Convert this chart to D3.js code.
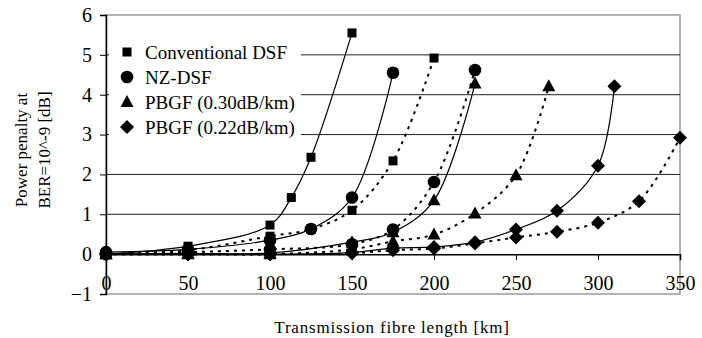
<!DOCTYPE html>
<html><head><meta charset="utf-8">
<script src="https://cdn.jsdelivr.net/npm/d3@7"></script>
<style>body{margin:0;background:#fff}svg{display:block}</style>
</head><body><svg id="c" width="702" height="338"></svg>
<script>
const xTicks = [0, 50, 100, 150, 200, 250, 300, 350];
const yTicks = [-1, 0, 1, 2, 3, 4, 5, 6];
const legendNames = ["Conventional DSF", "NZ-DSF", "PBGF (0.30dB/km)", "PBGF (0.22dB/km)"];

const convSolidX = [0, 50, 100, 113, 125, 150];
const convSolidY = [0, 0.2, 0.73, 1.42, 2.43, 5.55];
const convDashX = [0, 50, 100, 125, 150, 175, 200];
const convDashY = [0, 0.1, 0.45, 0.63, 1.1, 2.34, 4.92];
const nzSolidX = [0, 50, 100, 125, 150, 175];
const nzSolidY = [0.05, 0.12, 0.35, 0.63, 1.42, 4.55];
const nzDashX = [0, 50, 100, 150, 175, 200, 225];
const nzDashY = [0, 0.05, 0.12, 0.25, 0.62, 1.81, 4.62];
const triSolidX = [0, 50, 100, 150, 175, 200, 225];
const triSolidY = [0, 0.02, 0.03, 0.3, 0.55, 1.35, 4.28];
const triDashX = [0, 50, 100, 150, 175, 200, 225, 250, 270];
const triDashY = [0, 0, 0, 0.12, 0.32, 0.49, 1.02, 1.98, 4.21];
const diaSolidX = [0, 50, 100, 150, 175, 200, 225, 250, 275, 300, 310];
const diaSolidY = [0, 0, 0, 0.04, 0.15, 0.18, 0.3, 0.62, 1.09, 2.22, 4.21];
const diaDashX = [0, 50, 100, 150, 175, 200, 225, 250, 275, 300, 325, 350];
const diaDashY = [0, 0, 0, 0.02, 0.1, 0.14, 0.27, 0.42, 0.56, 0.79, 1.33, 2.92];

const series = [
  {x: convSolidX, y: convSolidY, m: "square", dash: false},
  {x: convDashX, y: convDashY, m: "square", dash: true},
  {x: nzSolidX, y: nzSolidY, m: "circle", dash: false},
  {x: nzDashX, y: nzDashY, m: "circle", dash: true},
  {x: triSolidX, y: triSolidY, m: "triangle", dash: false},
  {x: triDashX, y: triDashY, m: "triangle", dash: true},
  {x: diaSolidX, y: diaSolidY, m: "diamond", dash: false},
  {x: diaDashX, y: diaDashY, m: "diamond", dash: true}
];
const legendMarkers = ["square", "circle", "triangle", "diamond"];
const FONT = "'Liberation Serif'";

const svg = d3.select("#c");
const x = d3.scaleLinear().domain([0, 350]).range([106, 680]);
const y = d3.scaleLinear().domain([-1, 6]).range([294, 15]);

// frame
svg.append("rect").attr("x", x(0)).attr("y", y(6)).attr("width", x(350) - x(0)).attr("height", y(-1) - y(6))
  .attr("fill", "none").attr("stroke", "#9a9a9a").attr("stroke-width", 1.5);
// gridlines
svg.append("g").selectAll("line").data(yTicks.filter(v => v > 0 && v < 6)).join("line")
  .attr("x1", x(0)).attr("x2", x(350)).attr("y1", d => y(d)).attr("y2", d => y(d))
  .attr("stroke", "#222").attr("stroke-width", 1);

// y axis
const yAx = svg.append("g").attr("transform", `translate(${x(0)},0)`)
  .call(d3.axisLeft(y).tickValues(yTicks).tickSize(6).tickPadding(8).tickFormat(d3.format("d")));
yAx.attr("font-family", FONT).attr("font-size", 20);
yAx.select(".domain").attr("stroke", "#000").attr("stroke-width", 1.5);
yAx.selectAll("text").attr("fill", "#000");

// x axis at y=0
const xAx = svg.append("g").attr("transform", `translate(0,${y(0)})`)
  .call(d3.axisBottom(x).tickValues(xTicks).tickSize(6).tickPadding(15).tickFormat(d3.format("d")));
xAx.attr("font-family", FONT).attr("font-size", 20);
xAx.select(".domain").attr("stroke", "#000").attr("stroke-width", 1.5);
xAx.selectAll("text").attr("fill", "#000").attr("dy", "0.75em");

// markers
function marker(sel, type) {
  if (type === "square") sel.append("rect").attr("x", -4.5).attr("y", -4.5).attr("width", 9).attr("height", 9);
  else if (type === "circle") sel.append("circle").attr("r", 6.3);
  else if (type === "triangle") sel.append("path").attr("d", "M0,-7L6.5,5L-6.5,5Z");
  else sel.append("path").attr("d", "M0,-7L7,0L0,7L-7,0Z");
}

// lines
const line = d3.line().curve(d3.curveCatmullRom.alpha(0.5));
const lg = svg.append("g");
series.forEach(s => {
  const pts = s.x.map((v, i) => [x(v), y(s.y[i])]);
  lg.append("path").attr("d", line(pts)).attr("fill", "none").attr("stroke", "#000")
    .attr("stroke-width", s.dash ? 2 : 1.2).attr("stroke-dasharray", s.dash ? "3,5" : null);
});
series.forEach(s => {
  s.x.forEach((v, i) => {
    const g = lg.append("g").attr("transform", `translate(${x(v)},${y(s.y[i])})`).attr("fill", "#000");
    marker(g, s.m);
  });
});

// legend
const leg = svg.append("g");
leg.append("rect").attr("x", 109).attr("y", 36).attr("width", 192).attr("height", 106).attr("fill", "#fff");
legendNames.forEach((n, i) => {
  const g = leg.append("g").attr("transform", `translate(127,${52 + i * 25})`).attr("fill", "#000");
  marker(g, legendMarkers[i]);
  leg.append("text").attr("x", 145).attr("y", 52 + i * 25).attr("dy", "0.35em")
    .attr("font-size", 19).attr("font-family", FONT).text(n);
});

// axis titles
svg.append("text").attr("x", 392).attr("y", 333).attr("text-anchor", "middle").attr("font-size", 17)
  .attr("font-family", FONT).attr("letter-spacing", 0.8).text("Transmission fibre length [km]");
const yt = svg.append("text").attr("transform", "translate(0,150) rotate(-90)").attr("text-anchor", "middle")
  .attr("font-size", 17).attr("font-family", FONT);
yt.append("tspan").attr("x", 0).attr("y", 27).text("Power penalty at");
yt.append("tspan").attr("x", 0).attr("y", 50).text("BER=10^-9 [dB]");
</script></body></html>
